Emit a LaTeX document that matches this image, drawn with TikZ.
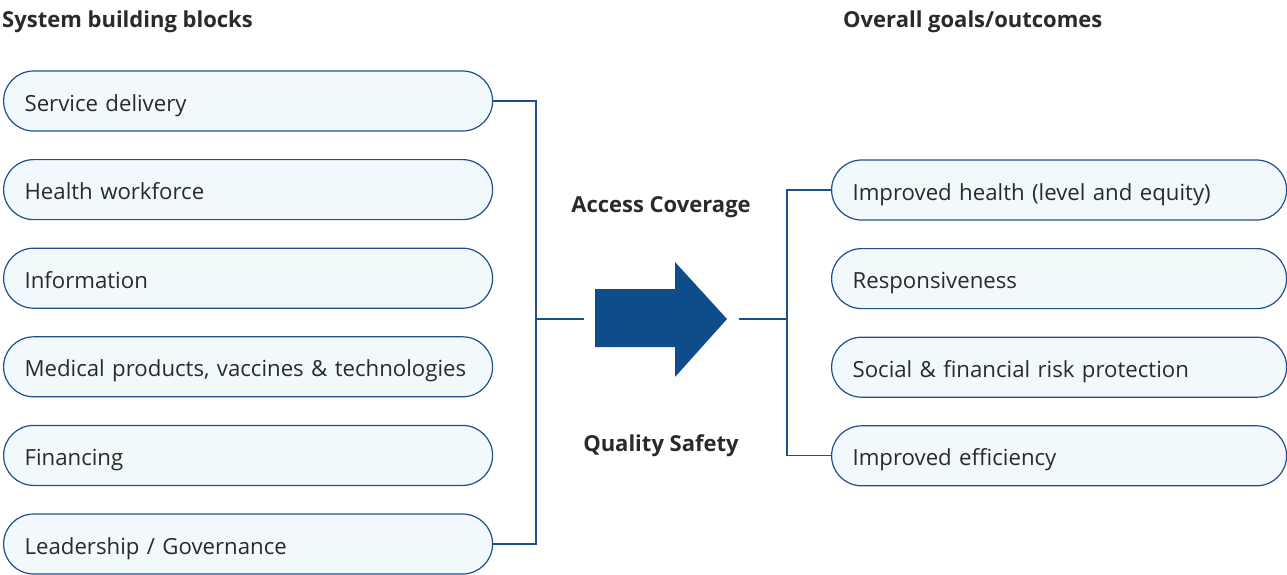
\documentclass[tikz,border=0pt]{standalone}
\usepackage{fontspec}
\setmainfont{Open Sans}
\definecolor{boxline}{HTML}{1F4F8F}
\definecolor{boxfill}{HTML}{F2F9FC}
\definecolor{arrowblue}{HTML}{0F4C8A}
\definecolor{txt}{HTML}{2A2A2A}

\begin{document}
\begin{tikzpicture}[x=1pt, y=-1pt, node distance=88.6pt,
  block/.style={rectangle, draw=boxline, fill=boxfill, line width=1.2pt, rounded corners=30pt, minimum width=489pt, minimum height=60pt, text width=447pt, inner xsep=21pt, text height=20pt, text depth=0pt, align=left, font=\fontsize{22.2}{26}\selectfont, text=txt},
  goal/.style={block, minimum width=455pt, text width=413pt},
  link/.style={draw=boxline, line width=1.2pt},
  heading/.style={font=\fontsize{22}{26}\selectfont\bfseries, text=txt, inner sep=0pt}]

  \useasboundingbox (0,0) rectangle (1287,574);

  \node[heading, anchor=base west] (lefttitle) at (2,27) {System building blocks};
  \node[heading, anchor=base west] (righttitle) at (843,27) {Overall goals/outcomes};

  \node[block, anchor=west] (service) at (3,101) {Service delivery};
  \node[block, below of=service] (workforce) {Health workforce};
  \node[block, below of=workforce] (info) {Information};
  \node[block, below of=info] (products) {Medical products, vaccines \&~technologies};
  \node[block, below of=products] (financing) {Financing};
  \node[block, below of=financing] (leadership) {Leadership / Governance};

  \node[goal, anchor=west] (health) at (831,190) {Improved health (level and equity)};
  \node[goal, below of=health] (respons) {Responsiveness};
  \node[goal, below of=respons] (risk) {Social \& financial risk protection};
  \node[goal, below of=risk] (efficiency) {Improved efficiency};

  \node[heading, anchor=base] (access) at (661,212) {Access Coverage};
  \node[heading, anchor=base] (quality) at (661,451) {Quality Safety};

  % big arrow
  \fill[arrowblue] (595,289) -- (675,289) -- (675,262) -- (727,319) -- (675,377) -- (675,347) -- (595,347) -- cycle;
  \coordinate (arrowtail) at (584,319);
  \coordinate (arrowtip) at (739,319);
  \coordinate (leftjoin) at (536,319);
  \coordinate (rightjoin) at (787,319);

  \draw[link] (service.east) -| (leftjoin);
  \draw[link] (leadership.east) -| (leftjoin);
  \draw[link] (leftjoin) -- (arrowtail);
  \draw[link] (arrowtip) -- (rightjoin);
  \draw[link] (rightjoin) |- (health.west);
  \draw[link] (rightjoin) |- (efficiency.west);
\end{tikzpicture}
\end{document}
